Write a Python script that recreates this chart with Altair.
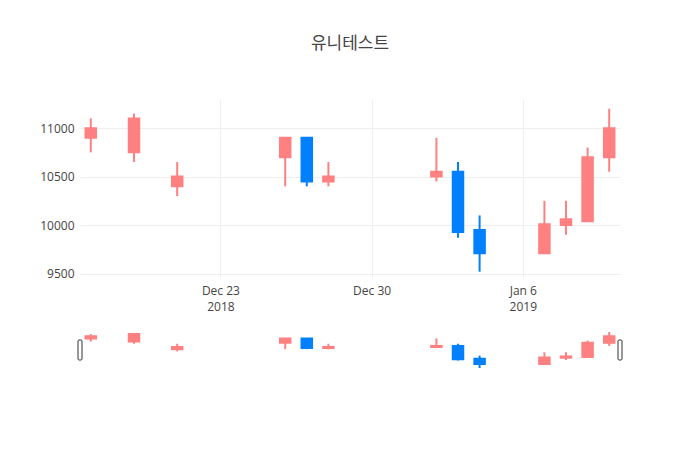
import altair as alt
import pandas as pd

dates = ["2018-12-17", "2018-12-19", "2018-12-21", "2018-12-26", "2018-12-27", "2018-12-28",
         "2019-01-02", "2019-01-03", "2019-01-04", "2019-01-07", "2019-01-08", "2019-01-09",
         "2019-01-10"]
open_ = [10900, 10750, 10400, 10700, 10900, 10450, 10500, 10550, 9950, 9710, 10000, 10040, 10700]
high = [11100, 11150, 10650, 10900, 10900, 10650, 10900, 10650, 10100, 10250, 10250, 10800, 11200]
low = [10750, 10650, 10300, 10400, 10400, 10400, 10450, 9870, 9520, 9710, 9900, 10040, 10550]
close = [11000, 11100, 10500, 10900, 10450, 10500, 10550, 9930, 9710, 10010, 10060, 10700, 11000]

range_ends = ["2018-12-16T12:00:00", "2019-01-10T12:00:00"]
tick_dates = [(2018, 12, 23), (2018, 12, 30), (2019, 1, 6)]
y_ticks = [9500, 10000, 10500, 11000]

df = pd.DataFrame({
    "date": [d + "T00:00:00" for d in dates],
    "open": open_, "high": high, "low": low, "close": close,
})
df["dir"] = ["up" if c >= o else "down" for o, c in zip(open_, close)]
ends = pd.DataFrame({"date": range_ends})

FONT = "'Open Sans', 'Noto Sans CJK KR', sans-serif"
x_domain = [alt.DateTime(year=2018, month=12, date=16, hours=12),
            alt.DateTime(year=2019, month=1, date=10, hours=12)]
color_scale = alt.Scale(domain=["up", "down"], range=["#ff8080", "#0080ff"])
color = alt.Color("dir:N", scale=color_scale, legend=None)

label_expr = ("datum.index == 0 || (month(datum.value) == 0 && date(datum.value) <= 7) ? "
              "[timeFormat(datum.value, '%b %-d'), timeFormat(datum.value, '%Y')] : "
              "timeFormat(datum.value, '%b %-d')")

x_main = alt.X("date:T", scale=alt.Scale(domain=x_domain, padding=0),
               axis=alt.Axis(values=[alt.DateTime(year=y, month=m, date=d) for y, m, d in tick_dates],
                             labelExpr=label_expr, grid=True, gridColor="#eeeeee",
                             domain=False, ticks=False, labelPadding=8, labelLineHeight=16,
                             labelFontSize=12, labelColor="#444444", labelFont=FONT,
                             minExtent=40, maxExtent=40, title=None))
y_main_scale = alt.Scale(domain=[9465, 11290], zero=False, nice=False)
y_axis = alt.Axis(values=y_ticks, format="d", grid=True, gridColor="#eeeeee", domain=False,
                  ticks=False, labelPadding=6, labelFontSize=12, labelColor="#444444",
                  labelFont=FONT, minExtent=67, maxExtent=67, title=None)

base = alt.Chart(df)
wick = base.mark_rule(strokeWidth=2).encode(
    x=x_main, y=alt.Y("low:Q", scale=y_main_scale, axis=y_axis), y2="high:Q", color=color)
body = base.mark_bar(size=10.5, strokeWidth=2).encode(
    x="date:T", y="open:Q", y2="close:Q", color=color, stroke=color)

main = alt.layer(wick, body).properties(
    width=540, height=177,
    title=alt.Title("유니테스트", font=FONT, fontSize=17, fontWeight="normal", color="#444444",
                    anchor="middle", frame="group", baseline="alphabetic", offset=34))

x_s = alt.X("date:T", scale=alt.Scale(domain=x_domain, padding=0), axis=None)
y_s_scale = alt.Scale(domain=[9430, 11290], zero=False, nice=False)
s_wick = base.mark_rule(strokeWidth=2).encode(
    x=x_s, y=alt.Y("low:Q", scale=y_s_scale, axis=None), y2="high:Q", color=color)
s_body = base.mark_bar(size=10.5, strokeWidth=2).encode(
    x="date:T", y="open:Q", y2="close:Q", color=color, stroke=color)
handles = alt.Chart(ends).mark_bar(size=4, fill="#ffffff", stroke="#333333", strokeWidth=1,
                                   cornerRadius=1).encode(
    x="date:T", y=alt.value(10), y2=alt.value(30))
slider = alt.layer(s_wick, s_body, handles).properties(width=540, height=40)

chart = alt.vconcat(main, slider, spacing=13).properties(
    padding={"left": 5, "top": 27, "right": 5, "bottom": 5}
).configure_view(strokeWidth=0).resolve_scale(color="shared")

chart.save("out.html", embed_options={"renderer": "svg", "actions": False})
